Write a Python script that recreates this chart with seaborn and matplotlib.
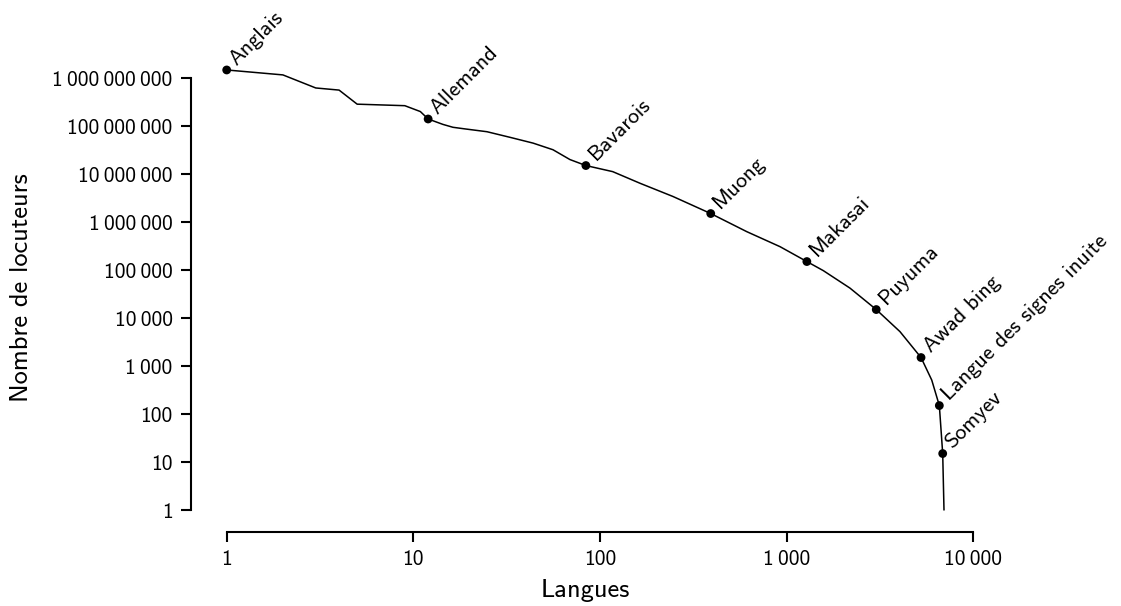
import matplotlib
matplotlib.use("Agg")
import matplotlib.pyplot as plt
import seaborn as sns
import pandas as pd

# Curve: language rank vs. number of speakers
rank = [1, 2, 3, 4, 5, 9, 10.9, 12, 14.4, 16.3, 18.9, 24.8, 33, 43.8, 56, 69,
        84, 117, 164, 246, 392, 611, 922, 1283, 1572, 2183, 3020, 4047,
        5248, 5988, 6577, 6856, 6966]
speakers = [1.47e9, 1.16e9, 6.2e8, 5.6e8, 2.85e8, 2.65e8, 2.0e8, 1.4e8,
            1.08e8, 9.4e7, 8.7e7, 7.6e7, 5.8e7, 4.4e7, 3.2e7, 2.0e7,
            1.5e7, 1.12e7, 6.4e6, 3.4e6, 1.5e6, 6.3e5, 3.06e5, 1.5e5,
            9.7e4, 4.2e4, 1.5e4, 5.2e3, 1.5e3, 510, 150, 15, 1]

# Labelled languages
label_names = ["Anglais", "Allemand", "Bavarois", "Muong", "Makasai",
               "Puyuma", "Awad bing", "Langue des signes inuite", "Somyev"]
label_rank = [1, 12, 84, 392, 1283, 3020, 5248, 6577, 6856]
label_speakers = [1.47e9, 1.4e8, 1.5e7, 1.5e6, 1.5e5, 1.5e4, 1.5e3, 150, 15]

# Ticks
x_ticks = [1, 10, 100, 1000, 10000]
x_tick_labels = ["1", "10", "100", "1\u2009000", "10\u2009000"]
y_ticks = [1, 10, 100, 1000, 1e4, 1e5, 1e6, 1e7, 1e8, 1e9]
y_tick_labels = ["1", "10", "100", "1\u2009000", "10\u2009000", "100\u2009000",
                 "1\u2009000\u2009000", "10\u2009000\u2009000",
                 "100\u2009000\u2009000", "1\u2009000\u2009000\u2009000"]

sns.set_theme(style="ticks")
plt.rcParams["font.family"] = ["cmss10", "DejaVu Sans"]
plt.rcParams["axes.unicode_minus"] = False

W, H = 1121, 606
fig = plt.figure(figsize=(W / 100, H / 100), dpi=100)
ax = fig.add_axes([226.7 / W, (H - 510) / H, (973.3 - 226.7) / W, (510 - 78) / H])
ax.set_xscale("log")
ax.set_yscale("log")

curve = pd.DataFrame({"rank": rank, "speakers": speakers})
pts = pd.DataFrame({"rank": label_rank, "speakers": label_speakers, "name": label_names})

sns.lineplot(data=curve, x="rank", y="speakers", ax=ax, color="black",
             linewidth=1.1, sort=False, estimator=None)
sns.scatterplot(data=pts, x="rank", y="speakers", ax=ax, color="black",
                s=40, edgecolor="none", zorder=5, clip_on=False)
for line in ax.lines:
    line.set_clip_on(False)

for n, xr, ys in zip(label_names, label_rank, label_speakers):
    ax.annotate(n, (xr, ys), xytext=(7, 3), textcoords="offset points",
                rotation=45, rotation_mode="anchor", ha="left", va="baseline",
                fontsize=16, color="black", annotation_clip=False)

ax.set_xlim(1, 1e4)
ax.set_ylim(1, 1e9)
ax.set_xticks(x_ticks)
ax.set_xticklabels(x_tick_labels)
ax.set_yticks(y_ticks)
ax.set_yticklabels(y_tick_labels)
ax.minorticks_off()
ax.tick_params(axis="both", which="major", labelsize=15.5, length=7,
               width=1.5, color="black", labelcolor="black", pad=6)

sns.despine(ax=ax)
ax.spines["left"].set_position(("outward", 26))
ax.spines["bottom"].set_position(("outward", 16))
for s in ("left", "bottom"):
    ax.spines[s].set_linewidth(1.5)
    ax.spines[s].set_color("black")

ax.set_xlabel("Langues", fontsize=19, color="black")
ax.set_ylabel("Nombre de locuteurs", fontsize=19, color="black")
ax.xaxis.set_label_coords((585 - 226.7) / (973.3 - 226.7), -(590 - 510) / (510 - 78))
ax.yaxis.set_label_coords(-(226.7 - 22) / (973.3 - 226.7), (510 - 288) / (510 - 78))
ax.xaxis.label.set_va("center")
ax.yaxis.label.set_va("center")

fig.savefig("out.png", dpi=100)
